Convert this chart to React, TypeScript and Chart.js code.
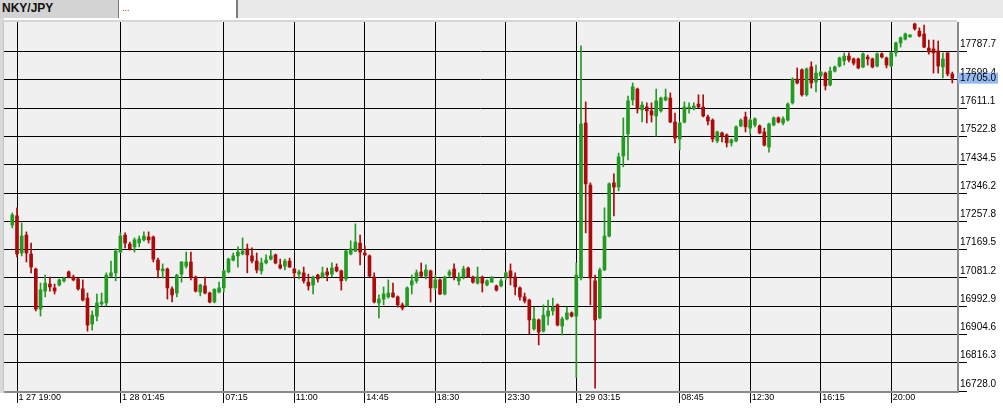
import React, { useEffect, useRef } from 'react';
import { Chart, registerables } from 'chart.js';

Chart.register(...registerables);

const symbol = 'NKY/JPY';
const firstIndex = -1;

const openP = [
  17246, 17275, 17159, 17215, 17156, 17109, 16984, 17040, 17062, 17050,
  17059, 17072, 17100, 17084, 17078, 17047, 17018, 16937, 16962, 17000,
  17003, 17087, 17097, 17162, 17215, 17187, 17178, 17190, 17200, 17209,
  17209, 17137, 17103, 17109, 17047, 17034, 17093, 17118, 17131, 17084,
  17037, 17056, 17034, 17006, 17037, 17050, 17100, 17137, 17150, 17156,
  17172, 17150, 17134, 17103, 17128, 17140, 17153, 17122, 17118, 17134,
  17109, 17093, 17097, 17068, 17059, 17090, 17084, 17100, 17093, 17115,
  17103, 17078, 17156, 17165, 17190, 17159, 17150, 17084, 17003, 17015,
  17022, 17034, 17022, 16997, 16994, 17059, 17072, 17100, 17087, 17103,
  17050, 17075, 17031, 17090, 17109, 17072, 17084, 17112, 17084, 17065,
  17084, 17059, 17068, 17056, 17056, 17084, 17103, 17084, 17050, 17022,
  17012, 16922, 16950, 16915, 16962, 16978, 16997, 16931, 16953, 16972,
  16962, 17081, 17565, 17371, 17072, 16956, 17106, 17212, 17378, 17365,
  17462, 17531, 17637, 17671, 17606, 17615, 17603, 17587, 17603, 17637,
  17643, 17568, 17515, 17568, 17612, 17609, 17624, 17615, 17584, 17574,
  17509, 17534, 17528, 17503, 17509, 17556, 17584, 17549, 17559, 17556,
  17537, 17490, 17559, 17581, 17565, 17574, 17628, 17702, 17731, 17653,
  17740, 17693, 17712, 17721, 17684, 17727, 17743, 17759, 17774, 17765,
  17765, 17740, 17771, 17765, 17743, 17781, 17768, 17743, 17784, 17815,
  17827, 17834, 17874, 17852, 17843, 17799, 17796, 17790, 17740, 17784,
  17718,
];

const highP = [
  17284, 17300, 17253, 17225, 17190, 17112, 17065, 17090, 17084, 17062,
  17078, 17084, 17103, 17090, 17081, 17075, 17034, 16978, 17031, 17034,
  17097, 17134, 17172, 17222, 17222, 17193, 17206, 17212, 17225, 17225,
  17212, 17143, 17125, 17112, 17053, 17093, 17132, 17162, 17162, 17087,
  17062, 17084, 17037, 17047, 17068, 17106, 17143, 17159, 17178, 17206,
  17187, 17175, 17159, 17143, 17153, 17168, 17156, 17140, 17140, 17143,
  17112, 17106, 17115, 17093, 17087, 17093, 17115, 17112, 17128, 17125,
  17106, 17168, 17197, 17250, 17215, 17181, 17153, 17097, 17028, 17053,
  17075, 17065, 17025, 17003, 17053, 17090, 17106, 17128, 17122, 17106,
  17090, 17078, 17087, 17106, 17125, 17097, 17118, 17115, 17087, 17115,
  17087, 17075, 17085, 17059, 17078, 17100, 17125, 17097, 17053, 17034,
  17015, 16990, 16953, 16997, 17012, 17018, 17000, 16959, 16990, 16975,
  17128, 17806, 17631, 17378, 17090, 17112, 17300, 17378, 17406, 17471,
  17581, 17649, 17690, 17674, 17631, 17628, 17628, 17671, 17646, 17671,
  17659, 17596, 17568, 17631, 17628, 17628, 17653, 17653, 17590, 17578,
  17540, 17537, 17531, 17515, 17556, 17578, 17599, 17578, 17581, 17559,
  17549, 17565, 17584, 17584, 17584, 17628, 17706, 17737, 17734, 17737,
  17756, 17746, 17727, 17724, 17740, 17743, 17771, 17784, 17784, 17768,
  17768, 17784, 17777, 17768, 17784, 17784, 17771, 17787, 17818, 17834,
  17846, 17841, 17877, 17862, 17871, 17824, 17824, 17821, 17784, 17785,
  17724,
];

const lowP = [
  17237, 17147, 17150, 17131, 17097, 16978, 16962, 17022, 17040, 17031,
  17056, 17068, 17081, 17072, 17043, 17009, 16915, 16918, 16947, 16994,
  16994, 17084, 17072, 17160, 17175, 17168, 17162, 17178, 17196, 17190,
  17131, 17081, 17081, 17015, 17006, 17022, 17068, 17112, 17075, 17037,
  17025, 17031, 17003, 17003, 17034, 17037, 17097, 17134, 17115, 17153,
  17097, 17128, 17097, 17093, 17125, 17137, 17125, 17109, 17106, 17114,
  17081, 17078, 17065, 17043, 17031, 17068, 17081, 17072, 17084, 17100,
  17043, 17072, 17153, 17163, 17122, 17150, 17084, 17003, 16956, 16997,
  17018, 17020, 16990, 16981, 16992, 17031, 17065, 17084, 17078, 17006,
  17043, 17029, 17028, 17084, 17075, 17059, 17078, 17082, 17065, 17062,
  17037, 17056, 17067, 17040, 17053, 17075, 17059, 17028, 17012, 17003,
  16906, 16918, 16872, 16912, 16934, 16965, 16931, 16903, 16950, 16959,
  16770, 17075, 17222, 16997, 16737, 16953, 17104, 17209, 17275, 17353,
  17428, 17450, 17621, 17596, 17568, 17565, 17568, 17524, 17599, 17634,
  17566, 17503, 17481, 17565, 17596, 17606, 17612, 17584, 17559, 17506,
  17503, 17506, 17490, 17493, 17506, 17553, 17537, 17531, 17553, 17531,
  17493, 17474, 17556, 17565, 17559, 17571, 17624, 17687, 17649, 17649,
  17674, 17662, 17709, 17668, 17681, 17724, 17740, 17746, 17756, 17746,
  17734, 17738, 17746, 17737, 17740, 17768, 17737, 17740, 17774, 17802,
  17824, 17833, 17855, 17834, 17800, 17780, 17721, 17721, 17706, 17712,
  17690,
];

const closeP = [
  17278, 17156, 17212, 17159, 17115, 16984, 17044, 17065, 17053, 17040,
  17075, 17081, 17084, 17075, 17047, 17012, 16934, 16965, 17003, 17006,
  17090, 17097, 17165, 17212, 17190, 17172, 17200, 17203, 17212, 17200,
  17140, 17106, 17109, 17050, 17028, 17090, 17131, 17131, 17084, 17040,
  17059, 17034, 17006, 17046, 17050, 17103, 17140, 17150, 17162, 17165,
  17153, 17134, 17106, 17128, 17137, 17150, 17128, 17112, 17134, 17115,
  17097, 17100, 17072, 17056, 17084, 17078, 17097, 17090, 17112, 17103,
  17072, 17165, 17172, 17193, 17162, 17153, 17087, 17006, 17015, 17031,
  17034, 17022, 16997, 16987, 17050, 17072, 17097, 17087, 17106, 17050,
  17075, 17031, 17084, 17100, 17084, 17084, 17109, 17084, 17068, 17084,
  17065, 17072, 17084, 17043, 17072, 17097, 17081, 17053, 17022, 17009,
  16950, 16953, 16912, 16965, 16978, 16990, 16934, 16953, 16972, 16962,
  17090, 17562, 17375, 17081, 16950, 17106, 17212, 17375, 17365, 17459,
  17521, 17634, 17678, 17609, 17621, 17603, 17590, 17634, 17643, 17646,
  17568, 17518, 17565, 17615, 17615, 17618, 17615, 17587, 17571, 17515,
  17537, 17524, 17503, 17512, 17553, 17574, 17553, 17574, 17578, 17534,
  17496, 17562, 17581, 17568, 17578, 17624, 17702, 17690, 17653, 17734,
  17690, 17721, 17724, 17681, 17727, 17740, 17768, 17774, 17762, 17752,
  17737, 17781, 17765, 17740, 17781, 17771, 17746, 17784, 17815, 17831,
  17843, 17840, 17859, 17837, 17802, 17787, 17784, 17743, 17765, 17718,
  17705.0,
];

const xTickIndex = [0, 22, 44, 59, 74, 89, 104, 119, 141, 156, 171, 186];
const xTickLabels = [
  '1 27 19:00', '1 28 01:45', '07:15', '11:00', '14:45', '18:30',
  '23:30', '1 29 03:15', '08:45', '12:30', '16:15', '20:00',
];
const yTickValues = [
  16728.0, 16816.3, 16904.6, 16992.9, 17081.2, 17169.5, 17257.8,
  17346.2, 17434.5, 17522.8, 17611.1, 17699.4, 17787.7,
];
const lastPrice = 17705.0;

const GREEN = '#239b23';
const RED = '#ad0b0b';
const FONT = '"Liberation Sans", Arial, sans-serif';

export default function App() {
  const ref = useRef<HTMLCanvasElement>(null);

  useEffect(() => {
    document.body.style.margin = '0';
    const canvas = ref.current;
    if (!canvas) return;
    const idx = openP.map((_, i) => i + firstIndex);
    const colors = openP.map((o, i) => (closeP[i] >= o ? GREEN : RED));
    const bodies = openP.map((o, i) => ({ x: idx[i], y: [o, closeP[i]] }));
    const wicks = openP.map((_, i) => ({ x: idx[i], y: [lowP[i], highP[i]] }));

    const frame = {
      id: 'frame',
      beforeDraw(chart: any) {
        const { ctx, chartArea: a, width, height } = chart;
        ctx.save();
        ctx.fillStyle = '#ffffff';
        ctx.fillRect(0, 0, width, height);
        ctx.fillStyle = '#d9d9d9';
        ctx.fillRect(0, 18, a.left, a.bottom - 18 + 2);
        ctx.fillStyle = '#d6d6d6';
        ctx.fillRect(a.left - 1, a.top - 2, a.right - a.left + 1, 2);
        ctx.fillStyle = '#f0f0f0';
        ctx.fillRect(a.left, a.top, a.right - a.left, a.bottom - a.top);
        ctx.restore();
      },
      afterDraw(chart: any) {
        const { ctx, chartArea: a, scales } = chart;
        ctx.save();
        ctx.fillStyle = '#8a8a8a';
        ctx.fillRect(a.right, a.top, 2, a.bottom - a.top + 2);
        ctx.fillRect(a.left, a.bottom, a.right - a.left + 2, 2);
        ctx.fillStyle = '#c4c4c4';
        ctx.fillRect(a.left - 1, a.top, 1, a.bottom - a.top);
        const py = scales.y.getPixelForValue(lastPrice);
        ctx.fillStyle = '#96b9f0';
        ctx.fillRect(a.right + 1, py - 5.5, 40, 11);
        ctx.fillStyle = '#000';
        ctx.font = `10px ${FONT}`;
        ctx.textBaseline = 'middle';
        ctx.textAlign = 'left';
        ctx.fillText(lastPrice.toFixed(1), a.right + 3, py + 0.5);
        ctx.restore();
      },
    };

    const chart = new Chart(canvas, {
      type: 'bar',
      data: {
        datasets: [
          {
            data: bodies as any,
            backgroundColor: colors,
            barThickness: 3,
            grouped: false,
            minBarLength: 1,
            borderWidth: 0,
            order: 0,
          } as any,
          {
            data: wicks as any,
            backgroundColor: colors,
            barThickness: 1,
            grouped: false,
            borderWidth: 0,
            order: 1,
          } as any,
        ],
      },
      options: {
        animation: false,
        responsive: false,
        devicePixelRatio: 1,
        layout: { padding: { left: 4, top: 22, right: 0, bottom: 0 } },
        plugins: {
          legend: { display: false },
          tooltip: { enabled: false },
          title: { display: false },
        },
        scales: {
          x: {
            type: 'linear',
            min: -2.766,
            max: 200,
            offset: false,
            afterBuildTicks: (s: any) => {
              s.ticks = xTickIndex.map((v) => ({ value: v }));
            },
            afterFit: (s: any) => {
              s.height = 23;
            },
            grid: {
              color: '#000',
              lineWidth: 1,
              drawTicks: true,
              tickLength: 12,
              tickColor: '#000',
              offset: false,
            },
            border: { display: false },
            ticks: {
              autoSkip: false,
              maxRotation: 0,
              minRotation: 0,
              align: 'start',
              labelOffset: 1.5,
              padding: -11,
              color: '#000',
              font: { family: FONT, size: 9 },
              callback: (v: any) => {
                const k = xTickIndex.indexOf(Number(v));
                return k >= 0 ? xTickLabels[k] : '';
              },
            },
          } as any,
          y: {
            type: 'linear',
            position: 'right',
            min: 16728.0,
            max: 17880.4,
            afterBuildTicks: (s: any) => {
              s.ticks = yTickValues.map((v) => ({ value: v }));
            },
            afterFit: (s: any) => {
              s.width = 46;
            },
            grid: {
              color: '#000',
              lineWidth: 1,
              drawTicks: true,
              tickLength: 10,
              tickColor: '#000',
            },
            border: { display: false },
            ticks: {
              autoSkip: false,
              padding: -7,
              labelOffset: -7,
              color: '#000',
              font: { family: FONT, size: 10 },
              callback: (v: any) => Number(v).toFixed(1),
            },
          } as any,
        },
      },
      plugins: [frame],
    });
    return () => chart.destroy();
  }, []);

  return (
    <div style={{ position: 'relative', width: 1003, height: 414, overflow: 'hidden', background: '#fff' }}>
      <canvas ref={ref} width={1003} height={414} style={{ position: 'absolute', left: 0, top: 0, width: 1003, height: 414 }} />
      <div style={{ position: 'absolute', left: 0, top: 0, width: 1003, height: 18, background: '#e9e9e9' }}>
        <div
          style={{
            position: 'absolute', left: 0, top: 0, width: 118, height: 18, background: '#d3d3d3',
            font: `bold 12px ${FONT}`, lineHeight: '17px', paddingLeft: 2, boxSizing: 'border-box', color: '#111',
          }}
        >
          {symbol}
        </div>
        <div style={{ position: 'absolute', left: 118, top: 0, width: 1, height: 18, background: '#777' }} />
        <div style={{ position: 'absolute', left: 119, top: 0, width: 117, height: 18, background: '#fff' }}>
          <span style={{ position: 'absolute', left: 3, top: 3, font: `9px ${FONT}`, color: '#c00000' }}>...</span>
        </div>
        <div style={{ position: 'absolute', left: 236, top: 0, width: 2, height: 18, background: '#7a7a7a' }} />
      </div>
    </div>
  );
}
